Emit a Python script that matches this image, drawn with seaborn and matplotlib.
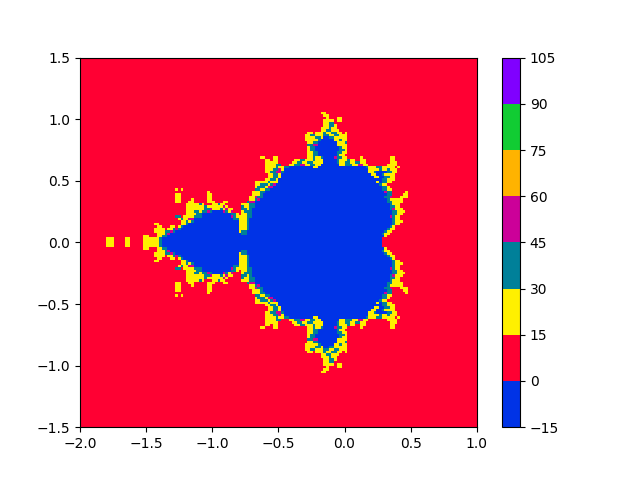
import numpy as np
import matplotlib
matplotlib.use("Agg")
import matplotlib.pyplot as plt
import seaborn as sns
from matplotlib.colors import ListedColormap

# escape-time bands, on a 150 x 150 grid
# each row lists "start column + band", anything before the first entry is red
# rows go from y=0 upwards, the lower half is the mirror image
upper_rows = [
    "10y 13r 17y 19r 24y 30t 31b 114r",
    "10y 13r 17y 19r 24y 30t 31b 114r",
    "24y 26r 29y 31t 33b 115y 116r",
    "29y 32t 33m 34b 61t 63b 114t 115y 117r",
    "28y 32t 34m 35t 36b 60y 61t 63b 115t 116y 118r",
    "28y 32r 33y 35t 36m 37t 38b 60y 63t 64b 116t 117y 119r",
    "29y 31r 34y 36r 37y 38t 39b 60y 63t 64b 117t 118y 119r",
    "28y 30r 38y 40t 41b 60y 63t 64b 118t 119y 121r",
    "38y 40t 41y 42t 43b 60y 63t 64b 118t 119y 122r",
    "37y 38t 39y 41m 43b 58t 60y 63t 64b 118t 119y 121r",
    "36t 38r 39y 43t 46b 57m 58t 59y 63t 65b 117m 118t 119y 121r",
    "40y 44t 46b 57t 59y 60r 61y 63t 65b 118t 120y 122r",
    "40y 43t 45y 46t 48m 49t 50b 54m 55t 56y 57m 58r 61y 62t 65b 118t 120y 123r",
    "40y 47t 49m 50y 53t 54y 55m 56y 58r 61t 63y 64t 65b 117t 118m 119y 122r",
    "40y 47t 48y 54m 55y 56r 61t 62y 64t 66b 117t 119y 121r",
    "40y 45t 46y 47r 50y 52t 53y 55r 61y 64t 66b 117t 118y 121r",
    "36y 38r 41y 43r 48y 51r 54y 56r 63t 64m 66b 116t 118y 122r",
    "36y 38r 42y 43r 48y 50r 64y 66t 67m 68b 116t 117y 122r",
    "36y 38r 48y 50r 64y 66m 67t 69b 115t 117m 118r 121y 124r",
    "36y 38r 48y 50r 65y 68t 69b 116t 118r 122y 124r",
    "48y 49r 65y 68t 70b 115m 116t 118r 123y 124r",
    "36y 37r 38y 39r 66t 68y 70t 72b 114t 116y 118r",
    "66y 67t 70y 71m 73b 114t 116y 117r",
    "66y 68t 71y 72t 73m 74b 113t 114y 116r",
    "66y 71t 72y 75b 112y 113b 114t 116y 118r",
    "70y 72t 74y 75b 114t 116y 119r",
    "71y 73t 75y 76b 111y 113b 115t 117y 119r",
    "71y 73t 75y 76b 110y 112b 114t 115y 119r",
    "70y 72t 74m 76t 77b 109y 111t 112b 116t 118y 120r",
    "70y 73t 75m 76y 77b 109y 113t 114y 116t 117y 120r",
    "70y 74t 75y 77t 79b 88y 90b 108t 109y 112t 114y 119r 120y 121r",
    "70y 74t 76r 79y 81t 83m 85y 87t 89y 91b 98y 100t 103y 105m 107y 109r 116y 120r",
    "70y 75r 80y 82t 84y 86t 88y 92b 97t 98y 100t 102y 104t 106y 108r 117y 120r",
    "70y 72r 73y 75r 81y 83t 85y 88t 89y 92b 97t 98y 101t 102y 104r 106y 108r 117y 119r",
    "68y 70r 73y 75r 86y 88t 89y 91t 92b 96m 97t 99y 101r 106y 107r 117y 119r",
    "86y 88t 90b 97t 98y 100r",
    "86y 88t 90b 97t 99y 101r",
    "86y 87t 89b 98t 100y 101r",
    "86y 87t 89b 98t 99y 101r",
    "86t 88m 90b 97y 101r",
    "86y 88t 90b 97y 100t 101r",
    "85y 90t 91b 96y 98t 99y 101r",
    "85y 89t 91y 92b 94t 96y 101r",
    "85y 87t 89y 92t 94y 96t 98y 101r",
    "86y 88r 89y 92t 93y 95t 97y 99r 100y 101r",
    "91y 93t 95y 98r",
    "91y 94t 95y 97r",
    "92y 94t 96y 97r",
    "92y 94t 96r",
    "92y 96r 97y 99r",
    "93y 94r 97y 99r",
    "92y 94r",
    "91y 93r",
]

band_values = {"b": -1, "r": 5, "y": 20, "t": 35, "m": 50}
band_colors = ["#0033e6", "#ff0033", "#fff000", "#008099",
               "#cc0099", "#ffb300", "#11cc33", "#8000ff"]
x_ticks = [-2.0, -1.5, -1.0, -0.5, 0.0, 0.5, 1.0]
y_ticks = [-1.5, -1.0, -0.5, 0.0, 0.5, 1.0, 1.5]
cbar_ticks = [-15, 0, 15, 30, 45, 60, 75, 90, 105]

n_cells = 150


def expand_row(row):
    values = np.full(n_cells, band_values["r"])
    for token in row.split():
        values[int(token[:-1]):] = band_values[token[-1]]
    return values


grid = np.full((n_cells, n_cells), band_values["r"])
for k, row in enumerate(upper_rows):
    grid[n_cells // 2 + k] = expand_row(row)
    grid[n_cells // 2 - 1 - k] = expand_row(row)

fig, ax = plt.subplots(figsize=(6.4, 4.8), dpi=100)
sns.heatmap(grid, ax=ax, vmin=-15, vmax=105, cmap=ListedColormap(band_colors),
            cbar_kws={"ticks": cbar_ticks})

# heatmap works in cell units, so map the data ticks onto cells
ax.set_xlim(0, n_cells)
ax.set_ylim(0, n_cells)
ax.set_xticks([(x + 2.0) / 3.0 * n_cells for x in x_ticks],
              [f"{x:.1f}".replace("-", "\u2212") for x in x_ticks], rotation=0)
ax.set_yticks([(y + 1.5) / 3.0 * n_cells for y in y_ticks],
              [f"{y:.1f}".replace("-", "\u2212") for y in y_ticks], rotation=0)
# heatmap centres its y labels differently from a plain axis
plt.setp(ax.get_yticklabels(), va="center_baseline")
ax.tick_params(length=3.5, width=0.8, labelsize=10)
for spine in ax.spines.values():
    spine.set_visible(True)
    spine.set_linewidth(0.8)

cbar = ax.collections[0].colorbar
cbar.ax.tick_params(length=3.5, width=0.8, labelsize=10)
cbar.outline.set_visible(True)
cbar.outline.set_linewidth(0.8)
cbar.outline.set_edgecolor("black")

plt.savefig("out.png", dpi=100)
plt.close()
